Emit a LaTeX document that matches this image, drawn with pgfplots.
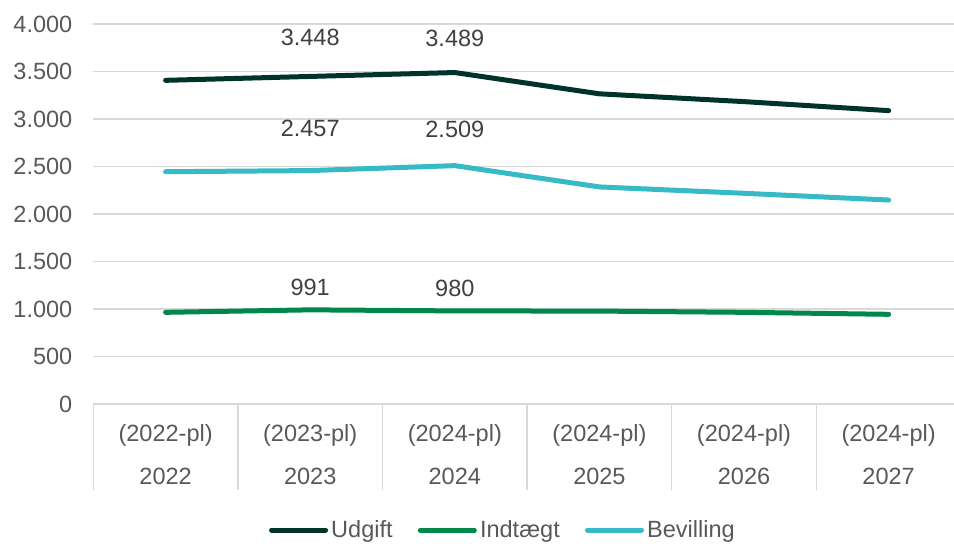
\documentclass[border=0pt]{standalone}
\usepackage{pgfplots}
\pgfplotsset{compat=1.18}
\usepackage{pgfplotstable}
\usepackage{fontspec}
\setmainfont{Liberation Sans}

\definecolor{udgift}{HTML}{00332A}
\definecolor{indtaegt}{HTML}{00884A}
\definecolor{bevilling}{HTML}{35BAC6}
\definecolor{gridgray}{HTML}{D9D9D9}
\definecolor{textgray}{HTML}{595959}
\definecolor{labgray}{HTML}{404040}

\newcommand{\chartfont}{\fontsize{11.8}{14}\selectfont}

% x = 0..5 stands for 2022..2027
\pgfplotstableread{
x y
0 3407
1 3448
2 3489
3 3265
4 3183
5 3088
}\udgift
\pgfplotstableread{
x y
0 965
1 991
2 980
3 978
4 965
5 944
}\indtaegt
\pgfplotstableread{
x y
0 2445
1 2457
2 2509
3 2285
4 2218
5 2147
}\bevilling
% data labels, dy = shift above the point in bp
\pgfplotstableread{
x y lab dy
1 3448 3.448 19.6
2 3489 3.489 17.1
1 2457 2.457 21.1
2 2509 2.509 18.3
1 991 991 11.3
2 980 980 11.3
}\labels

\begin{document}
\begin{tikzpicture}
\begin{axis}[
    at={(0,0)}, anchor=south west,
    scale only axis,
    width=430.35bp, height=190bp,
    xmin=-0.5, xmax=5.452,
    ymin=0, ymax=4000,
    ytick={0,500,...,4000},
    scaled y ticks=false,
    /pgf/number format/.cd, fixed, 1000 sep={.}, assume math mode=true,
    /pgfplots/.cd,
    xtick={0,1,2,3,4,5},
    xticklabels={(2022-pl),(2023-pl),(2024-pl),(2024-pl),(2024-pl),(2024-pl)},
    extra x ticks={0,1,2,3,4,5},
    extra x tick labels={2022,2023,2024,2025,2026,2027},
    extra x tick style={xticklabel style={yshift=-21.2bp}},
    minor xtick={-0.5,0.5,1.5,2.5,3.5,4.5,5.5},
    xtick pos=bottom, ytick pos=left,
    tick align=outside,
    major tick length=0pt,
    minor tick length=43bp,
    tick style={color=gridgray, line width=0.75bp},
    axis line style={draw=none},
    ymajorgrids,
    major grid style={color=gridgray, line width=0.75bp},
    tick label style={font=\chartfont, text=textgray},
    xticklabel style={anchor=base, yshift=-18.8bp},
    yticklabel style={anchor=east, inner sep=0pt, xshift=-10.3bp},
    every axis plot/.append style={line width=2.5bp, line cap=round, line join=round},
    legend style={at={(0.4766,-0.3316)}, anchor=center, draw=none,
        legend columns=3, font=\chartfont, text=textgray,
        nodes={inner xsep=1.6bp},
        /tikz/every even column/.append style={column sep=11bp},
        /tikz/every odd column/.append style={column sep=0bp}},
    legend cell align=left,
    legend image code/.code={\draw[#1] (0bp,0bp) -- (27bp,0bp);},
]
\addplot[udgift, no marks] table {\udgift};
\addlegendentry{Udgift}
\addplot[indtaegt, no marks] table {\indtaegt};
\addlegendentry{Indtægt}
\addplot[bevilling, no marks] table {\bevilling};
\addlegendentry{Bevilling}

\addplot[draw=none, no marks, forget plot,
    point meta=explicit symbolic,
    visualization depends on={\thisrow{dy} \as \dy},
    nodes near coords,
    nodes near coords style={anchor=center, yshift=\dy bp, font=\chartfont, text=labgray}]
    table[meta=lab] {\labels};
\end{axis}
\pgfresetboundingbox
\path[use as bounding box] (-46.65bp,-70bp) rectangle (430.35bp,202bp);
\end{tikzpicture}
\end{document}
